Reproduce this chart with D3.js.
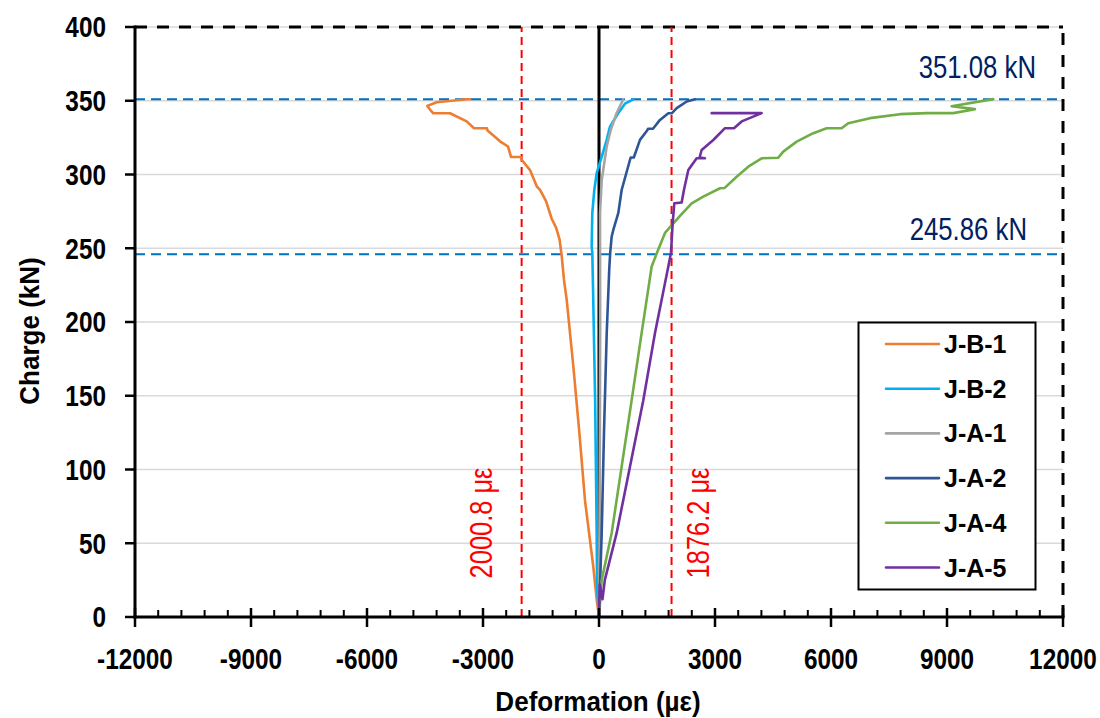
<!DOCTYPE html>
<html><head><meta charset="utf-8">
<script src="https://cdn.jsdelivr.net/npm/d3@7"></script>
<style>
html,body{margin:0;padding:0;background:#fff;}
svg{display:block;font-family:"Liberation Sans",Arial,sans-serif;}
</style></head>
<body>
<svg id="c" width="1100" height="718"></svg>
<script>
// ---- data ----
const seriesNames = ["J-B-1","J-B-2","J-A-1","J-A-2","J-A-4","J-A-5"];
const seriesColors = ["#ed7d31","#00b0f0","#a5a5a5","#2f5597","#70ad47","#7030a0"];
const xTicks = [-12000,-9000,-6000,-3000,0,3000,6000,9000,12000];
const yTicks = [0,50,100,150,200,250,300,350,400];
const refLoads = [351.08, 245.86];
const refLoadLabels = ["351.08 kN","245.86 kN"];
const refStrains = [-2000.8, 1876.2];
const refStrainLabels = ["2000.8 με","1876.2 με"];

const JB1 = [[0,0],[-60,12],[-147,34],[-362,79],[-508,125],[-664,170],[-835,215],[-905,228.5],[-965,245],[-1020,256],
  [-1110,264],[-1223,270],[-1370,282],[-1525,289.5],[-1611,292],[-1784,303],[-2000,310],[-2025,311.9],[-2276,311.9],
  [-2353,319],[-2560,322.5],[-2888,330],[-2896,331.4],[-3232,331.4],[-3422,336],[-3853,341.5],[-4285,341.5],
  [-4370,344],[-4440,346.5],[-4197,349],[-3421,351],[-3336,351]];
const JB2 = [[0,0],[-50,20],[-60,57],[-100,147],[-150,217],[-173,247],[-190,251],[-173,274],[-121,289.5],
  [-60,301],[70,312],[199,323.5],[284,332.5],[500,341.7],[672,348],[887,351]];
const JA1 = [[0,0],[20,100],[30,200],[26,274],[70,296],[199,319],[302,330],[457,341.7],[629,351]];
const JA2 = [[0,0],[70,57],[129,125],[199,192],[267,237],[290,247],[328,258],[370,262.4],[500,274],[586,289.5],
  [802,310],[820,311.5],[900,311.5],[1060,323.5],[1250,330],[1267,331],[1396,331],[1577,337],[1793,341.5],
  [1880,341.5],[2009,345],[2268,349.5],[2483,351]];
const JA4 = [[0,0],[70,25],[328,57],[586,102],[845,147],[1103,192.6],[1362,237.6],[1530,249],[1707,260.4],
  [2095,272],[2397,280.5],[2697,285],[3129,290.7],[3250,290.9],[3560,298.5],[3861,305.3],[4207,311],
  [4637,311.4],[4766,315.5],[5112,322.3],[5542,328],[5887,331.4],[6275,331.4],[6447,334.8],[7008,338.2],
  [7784,340.9],[8474,341.6],[9163,341.6],[9723,344.3],[9120,346.3],[10197,351.1]];
const JA5 = [[0,0],[20,22],[90,12],[150,25],[457,57],[802,102],[1146,147],[1448,192.6],[1793,237.6],[1862,247],
  [1905,267],[1948,280.5],[2138,281],[2198,289.6],[2310,303],[2526,311],[2741,311],[2600,311.5],[2655,316.6],
  [2956,323.4],[3258,331.4],[3491,331.4],[3690,336],[4207,341.6],[2914,341.6]];
const seriesData = [JB1,JB2,JA1,JA2,JA4,JA5];

// ---- layout ----
const svg = d3.select("#c");
const L=135,R=1063,T=27,B=617;
const x = d3.scaleLinear().domain([-12000,12000]).range([L,R]);
const y = d3.scaleLinear().domain([0,400]).range([B,T]);

// condense text horizontally (narrow-font look)
function squeeze(sel, ratio){
  sel.each(function(){
    const len = this.getComputedTextLength();
    d3.select(this).attr("textLength", len*ratio).attr("lengthAdjust","spacingAndGlyphs");
  });
}

// gridlines
svg.append("g").selectAll("line").data(yTicks.filter(d=>d>0)).join("line")
  .attr("x1",L).attr("x2",R).attr("y1",d=>y(d)).attr("y2",d=>y(d))
  .attr("stroke","#d9d9d9").attr("stroke-width",1.5);

// top & right dashed borders
svg.append("line").attr("x1",L).attr("x2",R).attr("y1",y(400)).attr("y2",y(400))
  .attr("stroke","#000").attr("stroke-width",3).attr("stroke-dasharray","12,10");
svg.append("line").attr("x1",x(12000)).attr("x2",x(12000)).attr("y1",y(0)).attr("y2",y(400))
  .attr("stroke","#000").attr("stroke-width",3).attr("stroke-dasharray","12,10");

// reference load lines
svg.append("g").selectAll("line").data(refLoads).join("line")
  .attr("x1",L).attr("x2",R).attr("y1",d=>y(d)).attr("y2",d=>y(d))
  .attr("stroke","#0070c0").attr("stroke-width",2).attr("stroke-dasharray","10,6");
const loadLabelY = [78, 240];
const loadLabelX = [1036, 1027];
svg.append("g").selectAll("text").data(refLoadLabels).join("text")
  .attr("x",(d,i)=>loadLabelX[i]).attr("y",(d,i)=>loadLabelY[i]).attr("text-anchor","end")
  .attr("font-size",31).attr("fill","#002060").text(d=>d).call(squeeze,0.83);

// reference strain lines
svg.append("g").selectAll("line").data(refStrains).join("line")
  .attr("x1",d=>x(d)).attr("x2",d=>x(d)).attr("y1",y(0)).attr("y2",y(400))
  .attr("stroke","#ff0000").attr("stroke-width",2).attr("stroke-dasharray","8,5");
const strainLabelX = [492, 709];
svg.append("g").selectAll("text").data(refStrainLabels).join("text")
  .attr("transform",(d,i)=>`translate(${strainLabelX[i]},523) rotate(-90)`)
  .attr("text-anchor","middle").attr("font-size",31).attr("fill","#ff0000").text(d=>d).call(squeeze,0.82);

// zero vertical line
svg.append("line").attr("x1",x(0)).attr("x2",x(0)).attr("y1",y(0)).attr("y2",y(400))
  .attr("stroke","#000").attr("stroke-width",3);

// series
const line = d3.line().x(d=>x(d[0])).y(d=>y(d[1]));
svg.append("g").selectAll("path").data(seriesData).join("path")
  .attr("d",line).attr("fill","none").attr("stroke",(d,i)=>seriesColors[i])
  .attr("stroke-width",2.6).attr("stroke-linejoin","round").attr("stroke-linecap","round");

// axes
svg.append("line").attr("x1",L).attr("x2",L).attr("y1",B+1.5).attr("y2",T-1.5).attr("stroke","#000").attr("stroke-width",3);
svg.append("line").attr("x1",L-1.5).attr("x2",R+1.5).attr("y1",B).attr("y2",B).attr("stroke","#000").attr("stroke-width",3);
// y ticks
svg.append("g").selectAll("line").data(yTicks).join("line")
  .attr("x1",L-10).attr("x2",L).attr("y1",d=>y(d)).attr("y2",d=>y(d)).attr("stroke","#000").attr("stroke-width",2.5);
svg.append("g").selectAll("text").data(yTicks).join("text")
  .attr("x",106).attr("y",d=>y(d)).attr("dy","0.36em").attr("text-anchor","end")
  .attr("font-size",29).attr("font-weight","bold").text(d=>d).call(squeeze,0.84);
// x ticks
const minorX = d3.range(-12000,12001,600).filter(v=>v%3000!==0);
svg.append("g").selectAll("line").data(minorX).join("line")
  .attr("x1",d=>x(d)).attr("x2",d=>x(d)).attr("y1",B-7).attr("y2",B).attr("stroke","#000").attr("stroke-width",2);
svg.append("g").selectAll("line").data(xTicks).join("line")
  .attr("x1",d=>x(d)).attr("x2",d=>x(d)).attr("y1",B-9).attr("y2",B+10).attr("stroke","#000").attr("stroke-width",2.5);
svg.append("g").selectAll("text").data(xTicks).join("text")
  .attr("x",d=>x(d)).attr("y",669).attr("text-anchor","middle")
  .attr("font-size",29).attr("font-weight","bold").text(d=>d).call(squeeze,0.84);

// axis titles
svg.append("text").attr("x",598).attr("y",711).attr("text-anchor","middle")
  .attr("font-size",28).attr("font-weight","bold").text("Deformation (µε)").call(squeeze,0.93);
svg.append("text").attr("transform","translate(39,331) rotate(-90)").attr("text-anchor","middle")
  .attr("font-size",28).attr("font-weight","bold").text("Charge (kN)").call(squeeze,0.93);

// legend
const lg = svg.append("g");
lg.append("rect").attr("x",858.5).attr("y",322.5).attr("width",177).attr("height",267)
  .attr("fill","#fff").attr("stroke","#000").attr("stroke-width",2);
const items = lg.selectAll("g.it").data(seriesNames).join("g").attr("class","it")
  .attr("transform",(d,i)=>`translate(0,${344+i*44.7})`);
items.append("line").attr("x1",886).attr("x2",939).attr("y1",0).attr("y2",0)
  .attr("stroke",(d,i)=>seriesColors[i]).attr("stroke-width",2.6).attr("stroke-linecap","round");
items.append("text").attr("x",944).attr("y",0).attr("dy","0.36em")
  .attr("font-size",25).attr("font-weight","bold").text(d=>d);
</script>
</body></html>
